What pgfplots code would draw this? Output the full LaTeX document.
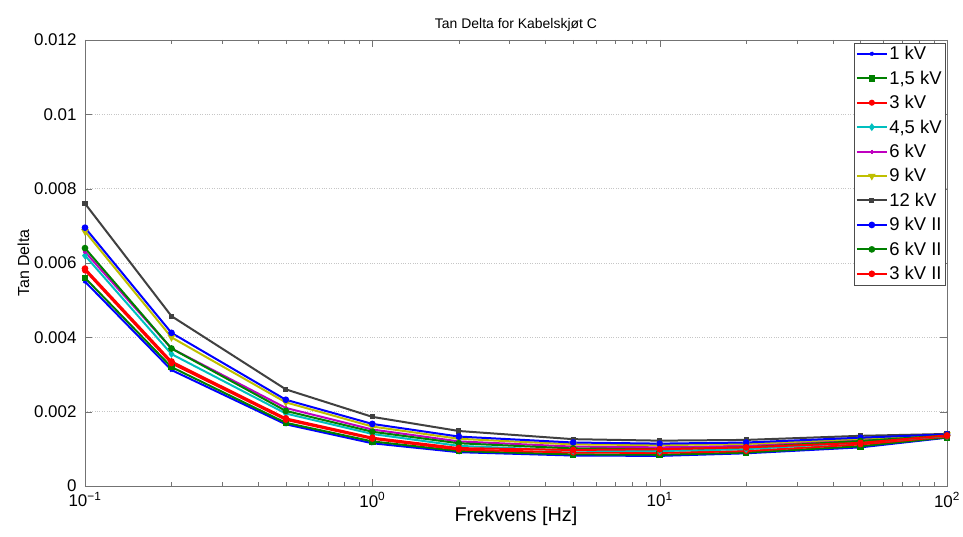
\documentclass[border=0pt]{standalone}
\usepackage{pgfplots}
\pgfplotsset{compat=1.18}
\usepackage{fontspec}
\setmainfont{Liberation Sans}
\definecolor{mblue}{rgb}{0,0,1}
\definecolor{mgreen}{rgb}{0,0.5,0}
\definecolor{mred}{rgb}{1,0,0}
\definecolor{mcyan}{rgb}{0,0.75,0.75}
\definecolor{mmag}{rgb}{0.75,0,0.75}
\definecolor{myel}{rgb}{0.75,0.75,0}
\definecolor{mgray}{rgb}{0.25,0.25,0.25}
\begin{document}
\begin{tikzpicture}
\path[use as bounding box] (-85bp,-51bp) rectangle (878bp,486bp);
\begin{axis}[
  at={(0,0)}, anchor=south west,
  scale only axis, width=862bp, height=446bp,
  xmode=log, xmin=0.1, xmax=100,
  ymin=0, ymax=0.012,
  scaled y ticks=false,
  xtick={0.1,1,10,100},
  xticklabels={10\textsuperscript{−1},10\textsuperscript{0},10\textsuperscript{1},10\textsuperscript{2}},
  ytick={0,0.002,0.004,0.006,0.008,0.01,0.012},
  yticklabels={0,0.002,0.004,0.006,0.008,0.01,0.012},
  ticklabel style={font=\fontsize{17}{19}\selectfont},
  yticklabel style={xshift=-5bp},
  xticklabel style={yshift=-3bp},
  ymajorgrids, grid style={dotted, line width=0.8bp, gray!45},
  axis line style={black!55},
  major tick length=7bp, minor tick length=4bp,
  tick style={black!55},
  title={Tan Delta for Kabelskjøt C},
  title style={font=\fontsize{14}{16}\selectfont, yshift=-1bp},
  xlabel={Frekvens [Hz]},
  xlabel style={font=\fontsize{20}{22}\selectfont, yshift=7bp},
  ylabel={Tan Delta},
  ylabel style={font=\fontsize{16}{18}\selectfont, yshift=-2bp},
  legend style={at={(0.998,0.994)}, anchor=north east, font=\fontsize{18.5}{20}\selectfont, draw=black!70, row sep=6.6bp, inner sep=2bp, inner xsep=2bp,
    nodes={inner sep=1.5bp}},
  legend image code/.code={\draw[#1, line width=2bp] (0bp,0bp) -- (30bp,0bp); \draw[#1, mark repeat=1] plot coordinates {(15bp,0bp)};},
  legend cell align=left,
  every axis plot/.append style={line width=2bp},
]
\addplot[color=mblue, mark=x, mark size=2bp] coordinates {(0.1,0.0055)(0.2,0.00312)(0.5,0.00166)(1,0.00115)(2,0.00091)(5,0.00082)(10,0.00081)(20,0.00088)(50,0.00104)(100,0.00130)};
\addlegendentry{1 kV}
\addplot[color=mgreen, mark=square*, mark size=2.3bp] coordinates {(0.1,0.0056)(0.2,0.0032)(0.5,0.0017)(1,0.0012)(2,0.00094)(5,0.00085)(10,0.00084)(20,0.00090)(50,0.00107)(100,0.00131)};
\addlegendentry{1,5 kV}
\addplot[color=mred, mark=*, mark size=2bp] coordinates {(0.1,0.0058)(0.2,0.0033)(0.5,0.00178)(1,0.00127)(2,0.00098)(5,0.00090)(10,0.00089)(20,0.00094)(50,0.00112)(100,0.00133)};
\addlegendentry{3 kV}
\addplot[color=mcyan, mark=diamond*, mark size=2.3bp] coordinates {(0.1,0.0062)(0.2,0.00355)(0.5,0.00195)(1,0.0014)(2,0.00108)(5,0.00095)(10,0.00094)(20,0.00099)(50,0.00117)(100,0.00135)};
\addlegendentry{4,5 kV}
\addplot[color=mmag, mark=+, mark size=2bp] coordinates {(0.1,0.0063)(0.2,0.0037)(0.5,0.0021)(1,0.00152)(2,0.00120)(5,0.00106)(10,0.00104)(20,0.00108)(50,0.00124)(100,0.00137)};
\addlegendentry{6 kV}
\addplot[color=myel, mark=triangle*, mark options={rotate=180}, mark size=2.5bp] coordinates {(0.1,0.00685)(0.2,0.0040)(0.5,0.00225)(1,0.0016)(2,0.00127)(5,0.00112)(10,0.00110)(20,0.00113)(50,0.00127)(100,0.00138)};
\addlegendentry{9 kV}
\addplot[color=mgray, mark=square*, mark size=1.6bp] coordinates {(0.1,0.0076)(0.2,0.00457)(0.5,0.0026)(1,0.00186)(2,0.00148)(5,0.00126)(10,0.00122)(20,0.00124)(50,0.00135)(100,0.00140)};
\addlegendentry{12 kV}
\addplot[color=mblue, mark=*, mark size=2.3bp] coordinates {(0.1,0.00695)(0.2,0.00412)(0.5,0.00232)(1,0.00167)(2,0.00133)(5,0.00117)(10,0.00114)(20,0.00117)(50,0.00130)(100,0.00139)};
\addlegendentry{9 kV II}
\addplot[color=mgreen, mark=*, mark size=2.3bp] coordinates {(0.1,0.0064)(0.2,0.0037)(0.5,0.00202)(1,0.00146)(2,0.00115)(5,0.00101)(10,0.00099)(20,0.00104)(50,0.00121)(100,0.00136)};
\addlegendentry{6 kV II}
\addplot[color=mred, mark=*, mark size=2.3bp] coordinates {(0.1,0.00585)(0.2,0.00335)(0.5,0.00182)(1,0.0013)(2,0.00102)(5,0.00097)(10,0.00099)(20,0.00104)(50,0.00116)(100,0.00136)};
\addlegendentry{3 kV II}
\end{axis}
\end{tikzpicture}
\end{document}
